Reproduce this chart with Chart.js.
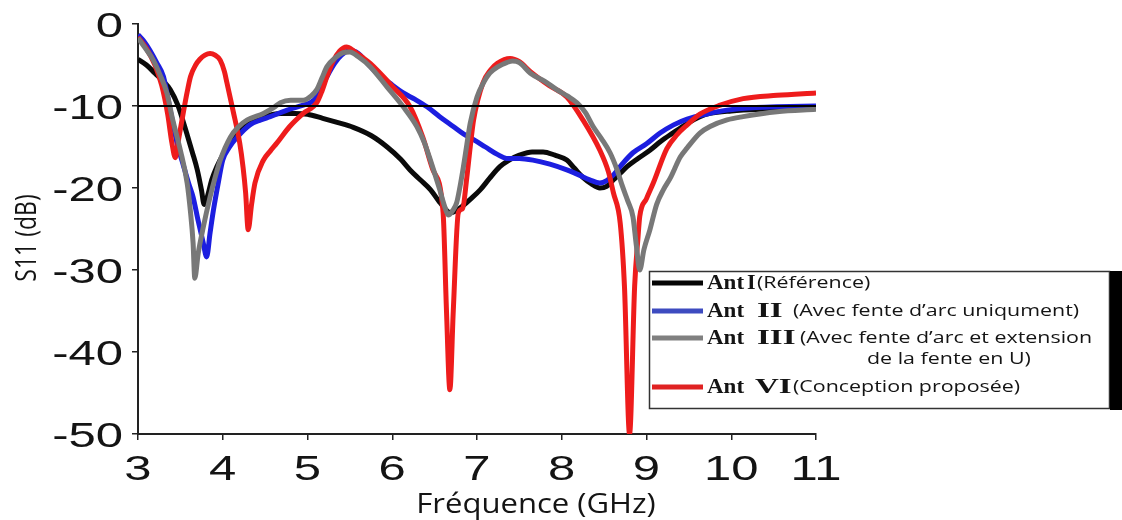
<!DOCTYPE html>
<html>
<head>
<meta charset="utf-8">
<script src="https://cdn.jsdelivr.net/npm/chart.js@4"></script>
<style>
  body { margin: 0; background: #fff; }
  #wrap { width: 1122px; height: 520px; }
</style>
</head>
<body>
<div id="wrap"><canvas id="s11Chart" width="1122" height="520"></canvas></div>
<script>
// S11 (dB), fréquence en GHz
const freqAnt1 = [3.0, 3.1, 3.2, 3.3, 3.38, 3.47, 3.53, 3.58, 3.64, 3.70, 3.75, 3.78, 3.82, 3.87, 3.93, 4.0, 4.09, 4.17, 4.24, 4.35, 4.48, 4.68, 4.85, 5.0, 5.18, 5.35, 5.54, 5.75, 5.94, 6.1, 6.21, 6.33, 6.45, 6.55, 6.62, 6.68, 6.75, 6.83, 6.93, 7.04, 7.15, 7.27, 7.38, 7.5, 7.65, 7.78, 7.92, 8.06, 8.15, 8.25, 8.35, 8.45, 8.53, 8.61, 8.7, 8.77, 8.9, 9.04, 9.17, 9.31, 9.47, 9.63, 9.75, 10.0, 10.34, 10.7, 11.0];
const s11Ant1 = [-4.3, -5.0, -6.0, -7.0, -8.0, -9.9, -11.8, -13.5, -15.6, -17.8, -20.3, -22, -21, -19, -17.4, -16, -14.5, -13.3, -12.5, -11.8, -11.3, -10.9, -10.9, -11.0, -11.5, -12, -12.6, -13.6, -15, -16.5, -17.8, -19, -20.2, -21.6, -22.5, -23, -22.8, -22.2, -21.3, -20.2, -18.8, -17.4, -16.6, -16.0, -15.6, -15.6, -16, -16.6, -17.6, -18.7, -19.5, -20, -19.8, -19, -18.1, -17.4, -16.4, -15.4, -14.3, -13.3, -12.2, -11.3, -10.9, -10.6, -10.4, -10.3, -10.3];

const freqAnt2 = [3.0, 3.07, 3.14, 3.22, 3.3, 3.34, 3.38, 3.42, 3.46, 3.54, 3.6, 3.65, 3.71, 3.77, 3.81, 3.85, 3.89, 3.95, 4.0, 4.08, 4.17, 4.32, 4.45, 4.56, 4.76, 4.95, 5.05, 5.11, 5.17, 5.23, 5.32, 5.4, 5.5, 5.6, 5.7, 5.82, 5.97, 6.13, 6.27, 6.41, 6.56, 6.72, 6.84, 6.96, 7.1, 7.24, 7.35, 7.5, 7.66, 7.86, 8.06, 8.2, 8.33, 8.45, 8.53, 8.61, 8.72, 8.84, 9.0, 9.16, 9.32, 9.48, 9.7, 9.95, 10.25, 10.54, 11.0];
const s11Ant2 = [-1.3, -2.1, -3.2, -4.7, -6.4, -8.3, -10.5, -12.5, -14.5, -17.4, -19.5, -21.1, -24, -26.7, -28.4, -25.5, -22.7, -19.2, -16.6, -15, -13.8, -12.3, -11.7, -11.3, -10.5, -9.9, -9.5, -8.9, -7.6, -6.4, -4.8, -3.8, -3.2, -3.6, -4.7, -6.0, -7.2, -8.4, -9.2, -10.1, -11.3, -12.5, -13.4, -14.1, -15, -15.9, -16.4, -16.4, -16.6, -17.1, -17.8, -18.4, -19, -19.4, -19.1, -18.4, -17, -15.7, -14.6, -13.3, -12.3, -11.6, -11.0, -10.5, -10.2, -10.1, -10.0];

const freqAnt3 = [3.0, 3.09, 3.18, 3.26, 3.34, 3.41, 3.5, 3.58, 3.62, 3.65, 3.67, 3.71, 3.77, 3.85, 3.91, 3.97, 4.09, 4.18, 4.29, 4.48, 4.6, 4.68, 4.8, 4.95, 5.04, 5.11, 5.17, 5.23, 5.33, 5.42, 5.5, 5.6, 5.74, 5.94, 6.13, 6.29, 6.38, 6.45, 6.56, 6.62, 6.66, 6.71, 6.76, 6.8, 6.84, 6.88, 6.92, 7.0, 7.07, 7.15, 7.25, 7.35, 7.42, 7.5, 7.63, 7.8, 7.94, 8.07, 8.18, 8.28, 8.37, 8.47, 8.57, 8.65, 8.72, 8.78, 8.84, 8.88, 8.92, 8.97, 9.04, 9.12, 9.2, 9.28, 9.4, 9.48, 9.63, 9.75, 9.95, 10.14, 10.54, 11.0];
const s11Ant3 = [-1.7, -3.0, -4.4, -6.2, -8.4, -11.7, -15.4, -19.4, -23, -26.7, -31, -28, -24.8, -21.1, -18.7, -16.6, -13.8, -12.6, -11.7, -10.9, -10.2, -9.6, -9.3, -9.3, -8.8, -8.0, -6.6, -5.2, -4.1, -3.5, -3.4, -4.0, -5.2, -7.7, -10.1, -12.5, -14.5, -16.6, -20.2, -22.3, -23.3, -22.8, -21.8, -19.8, -17.4, -14.7, -12.1, -8.9, -7.3, -6.0, -5.2, -4.7, -4.5, -4.7, -6.0, -7.0, -8.0, -8.8, -9.6, -10.8, -12.5, -14, -15.7, -17.7, -19.9, -21.6, -23.5, -27, -30, -27.5, -25.1, -22, -20.2, -18.8, -16.2, -15.1, -13.3, -12.5, -11.7, -11.3, -10.7, -10.4];

const freqAnt6 = [3.0, 3.1, 3.2, 3.28, 3.35, 3.4, 3.44, 3.48, 3.54, 3.58, 3.62, 3.68, 3.73, 3.79, 3.85, 3.91, 3.97, 4.02, 4.05, 4.12, 4.2, 4.24, 4.27, 4.3, 4.34, 4.38, 4.48, 4.56, 4.64, 4.79, 4.95, 5.11, 5.17, 5.23, 5.3, 5.38, 5.46, 5.55, 5.64, 5.74, 6.01, 6.21, 6.36, 6.48, 6.6, 6.64, 6.68, 6.72, 6.78, 6.83, 6.88, 6.92, 6.96, 7.07, 7.16, 7.24, 7.39, 7.5, 7.63, 7.85, 8.06, 8.25, 8.45, 8.55, 8.61, 8.69, 8.74, 8.8, 8.86, 8.9, 8.92, 9.0, 9.08, 9.24, 9.36, 9.48, 9.63, 9.87, 10.14, 10.54, 11.0];
const s11Ant6 = [-1.6, -3.0, -5.0, -7.5, -11, -14.5, -16.3, -14, -10.5, -8.3, -6.4, -5.0, -4.3, -3.8, -3.6, -3.8, -4.4, -5.8, -7.2, -10.5, -14.5, -17.5, -20.6, -25.1, -22, -19.4, -16.6, -15.5, -14.5, -12.5, -10.9, -9.6, -8.2, -6.4, -4.6, -3.3, -2.8, -3.3, -4.0, -4.8, -7.7, -10.1, -13.8, -17.8, -23, -35, -44.6, -35, -23, -22.5, -18.7, -15, -11.7, -7.2, -5.6, -4.8, -4.2, -4.6, -5.8, -7.5, -8.9, -11.7, -15.4, -18, -20.6, -24.3, -32, -50, -32, -26, -23.5, -21.3, -19.4, -15.2, -13.5, -12.3, -11, -9.9, -9.1, -8.7, -8.4];

const xTicks = [3, 4, 5, 6, 7, 8, 9, 10, 11];
const yTicks = [0, -10, -20, -30, -40, -50];
const seuil = -10;

function toPoints(fs, vs) {
  return fs.map((f, i) => ({ x: f, y: vs[i] }));
}

const legendItems = [
  { num: 'I', desc: ['(Référence)'], color: '#050505', y: 283, numX: 747, descX: 757 },
  { num: 'II', desc: ['(Avec fente d’arc uniqument)'], color: '#3d4bc0', y: 311, numX: 757, descX: 793 },
  { num: 'III', desc: ['(Avec fente d’arc et extension', 'de la fente en U)'], color: '#808080', y: 338, numX: 757, descX: 800, desc2X: 867 },
  { num: 'VI', desc: ['(Conception proposée)'], color: '#e02222', y: 387, numX: 755, descX: 793 }
];

function stretchText(ctx, str, x, y, font, sx, align, base) {
  ctx.save();
  ctx.translate(x, y);
  ctx.scale(sx, 1);
  ctx.font = font;
  ctx.textAlign = align;
  ctx.textBaseline = base;
  ctx.fillStyle = '#141414';
  ctx.fillText(str, 0, 0);
  ctx.restore();
}

// étiquettes élargies comme sur la figure + légende encadrée
const textesPlugin = {
  id: 'textes',
  afterDraw(chart) {
    const ctx = chart.ctx;
    const sx = chart.scales.x, sy = chart.scales.y;
    yTicks.forEach(v => {
      stretchText(ctx, String(v), 123, sy.getPixelForValue(v) + 3, '35px "Liberation Sans"', 1.4, 'right', 'middle');
    });
    xTicks.forEach(v => {
      stretchText(ctx, String(v), sx.getPixelForValue(v), 470, '35px "Liberation Sans"', 1.4, 'center', 'middle');
    });
    stretchText(ctx, 'Fréquence (GHz)', 536, 513, '27px "Open Sans"', 1.15, 'center', 'alphabetic');

    ctx.save();
    ctx.translate(27, 238);
    ctx.rotate(-Math.PI / 2);
    ctx.scale(1, 1.3);
    ctx.font = '23px "Open Sans"';
    ctx.textAlign = 'center';
    ctx.textBaseline = 'middle';
    ctx.fillStyle = '#141414';
    ctx.fillText('S11 (dB)', 0, 0);
    ctx.restore();

    // légende
    ctx.save();
    ctx.fillStyle = '#fff';
    ctx.fillRect(649, 271, 461, 138);
    ctx.strokeStyle = '#333';
    ctx.lineWidth = 1.5;
    ctx.strokeRect(649.5, 271.5, 460, 137);
    ctx.fillStyle = '#000';
    ctx.fillRect(1110, 271, 12, 139);
    legendItems.forEach(it => {
      ctx.strokeStyle = it.color;
      ctx.lineWidth = 5;
      ctx.beginPath();
      ctx.moveTo(652, it.y);
      ctx.lineTo(703, it.y);
      ctx.stroke();
      stretchText(ctx, 'Ant', 707, it.y + 1, 'bold 20px "Liberation Serif"', 1.15, 'left', 'middle');
      stretchText(ctx, it.num, it.numX, it.y + 1, 'bold 20px "Liberation Serif"', it.num === 'I' ? 1.1 : 1.65, 'left', 'middle');
      stretchText(ctx, it.desc[0], it.descX, it.y, '17px "Open Sans"', 1.26, 'left', 'middle');
      if (it.desc[1]) {
        stretchText(ctx, it.desc[1], it.desc2X, it.y + 21, '17px "Open Sans"', 1.26, 'left', 'middle');
      }
    });
    ctx.restore();
  }
};

const ctx = document.getElementById('s11Chart').getContext('2d');
const s11Chart = new Chart(ctx, {
  type: 'line',
  data: {
    datasets: [
      {
        label: 'seuil',
        data: [{ x: 3, y: seuil }, { x: 11, y: seuil }],
        borderColor: '#000',
        borderWidth: 2,
        order: 0
      },
      {
        label: 'Ant I',
        data: toPoints(freqAnt1, s11Ant1),
        borderColor: '#0a0a0a',
        borderWidth: 5,
        order: 4
      },
      {
        label: 'Ant II',
        data: toPoints(freqAnt2, s11Ant2),
        borderColor: '#1c1ee0',
        borderWidth: 5,
        order: 3
      },
      {
        label: 'Ant III',
        data: toPoints(freqAnt3, s11Ant3),
        borderColor: '#787878',
        borderWidth: 5,
        order: 1
      },
      {
        label: 'Ant VI',
        data: toPoints(freqAnt6, s11Ant6),
        borderColor: '#ee1c1c',
        borderWidth: 5,
        order: 2
      }
    ]
  },
  options: {
    responsive: false,
    animation: false,
    layout: { padding: { top: 24, right: 306, left: 0, bottom: 0 } },
    elements: {
      point: { radius: 0 },
      line: { cubicInterpolationMode: 'monotone' }
    },
    plugins: {
      legend: { display: false },
      tooltip: { enabled: false }
    },
    scales: {
      x: {
        type: 'linear',
        min: 3,
        max: 11,
        ticks: { stepSize: 1, display: false },
        grid: { drawOnChartArea: false, drawTicks: true, tickLength: 6, color: '#222', lineWidth: 1.5 },
        border: { color: '#222', width: 2 },
        afterFit: s => { s.height = 86; }
      },
      y: {
        min: -50,
        max: 0,
        ticks: { stepSize: 10, display: false },
        grid: { drawOnChartArea: false, drawTicks: true, tickLength: 6, color: '#222', lineWidth: 1.5 },
        border: { color: '#222', width: 2 },
        afterFit: s => { s.width = 138; }
      }
    }
  },
  plugins: [textesPlugin]
});
</script>
</body>
</html>
